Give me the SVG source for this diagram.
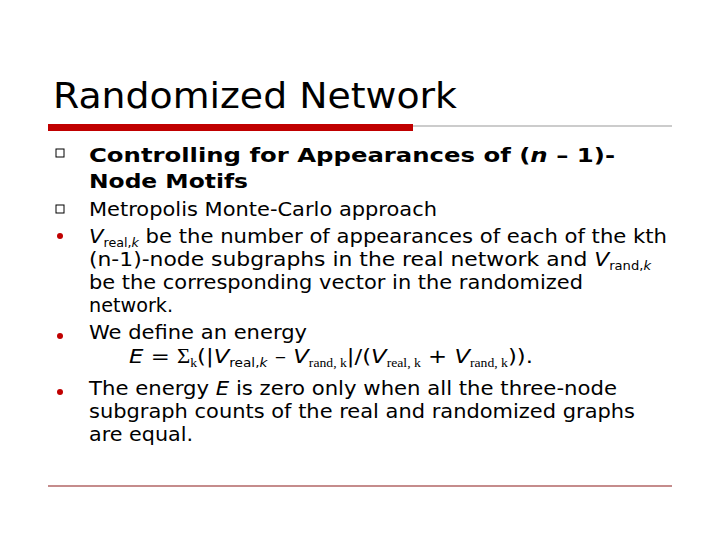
<svg xmlns="http://www.w3.org/2000/svg" width="720" height="540" viewBox="0 0 720 540">
<style>
.t{font-family:"DejaVu Sans",Verdana,sans-serif;font-size:20px;fill:#000}
.b{font-weight:bold}
.s{font-family:"Liberation Serif",serif;font-size:12px}
.u{font-size:12px}
</style>
<rect width="720" height="540" fill="#fff"/>
<text x="53" y="108" style="font-family:'DejaVu Sans',sans-serif;font-size:35px" textLength="404" lengthAdjust="spacingAndGlyphs">Randomized Network</text>
<line x1="48" y1="126" x2="672" y2="126" stroke="#999" stroke-width="1"/>
<rect x="48" y="124" width="365" height="7" fill="#c00000"/>
<g id="bullets" fill="#fff" stroke="#000" stroke-width="1">
<rect x="56" y="149" width="8" height="8"/>
<rect x="56" y="205" width="8" height="8"/>
</g>
<g fill="#c00000">
<circle cx="60" cy="236" r="3"/>
<circle cx="60" cy="336" r="3"/>
<circle cx="60" cy="392" r="3"/>
</g>
<text class="t b" x="89" y="162" textLength="526" lengthAdjust="spacingAndGlyphs">Controlling for Appearances of (<tspan font-style="italic">n</tspan> – 1)-</text>
<text class="t b" x="89" y="188" textLength="159" lengthAdjust="spacingAndGlyphs">Node Motifs</text>
<text class="t" x="89" y="216" textLength="348" lengthAdjust="spacingAndGlyphs">Metropolis Monte-Carlo approach</text>
<text class="t" x="89" y="243" textLength="578" lengthAdjust="spacingAndGlyphs"><tspan font-style="italic">V</tspan><tspan class="u" dy="4">real,<tspan font-style="italic">k</tspan></tspan><tspan dy="-4"> be the number of appearances of each of the kth</tspan></text>
<text class="t" x="89" y="266" textLength="562" lengthAdjust="spacingAndGlyphs">(n-1)-node subgraphs  in the real network and <tspan font-style="italic">V</tspan><tspan class="u" dy="4">rand,<tspan font-style="italic">k</tspan></tspan></text>
<text class="t" x="89" y="289" textLength="494" lengthAdjust="spacingAndGlyphs">be the corresponding vector in the randomized</text>
<text class="t" x="89" y="312" textLength="84" lengthAdjust="spacingAndGlyphs">network.</text>
<text class="t" x="89" y="339" textLength="218" lengthAdjust="spacingAndGlyphs">We define an energy</text>
<text class="t" x="129" y="363" textLength="404" lengthAdjust="spacingAndGlyphs"><tspan font-style="italic">E</tspan> = <tspan font-family="Liberation Serif,serif">Σ</tspan><tspan class="s" dy="4">k</tspan><tspan dy="-4">(|</tspan><tspan font-style="italic">V</tspan><tspan class="u" dy="4">real,<tspan font-style="italic">k</tspan></tspan><tspan dy="-4"> – </tspan><tspan font-style="italic">V</tspan><tspan class="s" dy="4">rand, k</tspan><tspan dy="-4">|/(</tspan><tspan font-style="italic">V</tspan><tspan class="s" dy="4">real, k</tspan><tspan dy="-4"> + </tspan><tspan font-style="italic">V</tspan><tspan class="s" dy="4">rand, k</tspan><tspan dy="-4">)).</tspan></text>
<text class="t" x="89" y="395" textLength="528" lengthAdjust="spacingAndGlyphs">The energy <tspan font-style="italic">E</tspan> is zero only when all the three-node</text>
<text class="t" x="89" y="418" textLength="546" lengthAdjust="spacingAndGlyphs">subgraph counts of the real and randomized graphs</text>
<text class="t" x="89" y="441" textLength="104" lengthAdjust="spacingAndGlyphs">are equal.</text>
<line x1="48" y1="486" x2="672" y2="486" stroke="#8b1a1a" stroke-width="1.2"/>
</svg>
